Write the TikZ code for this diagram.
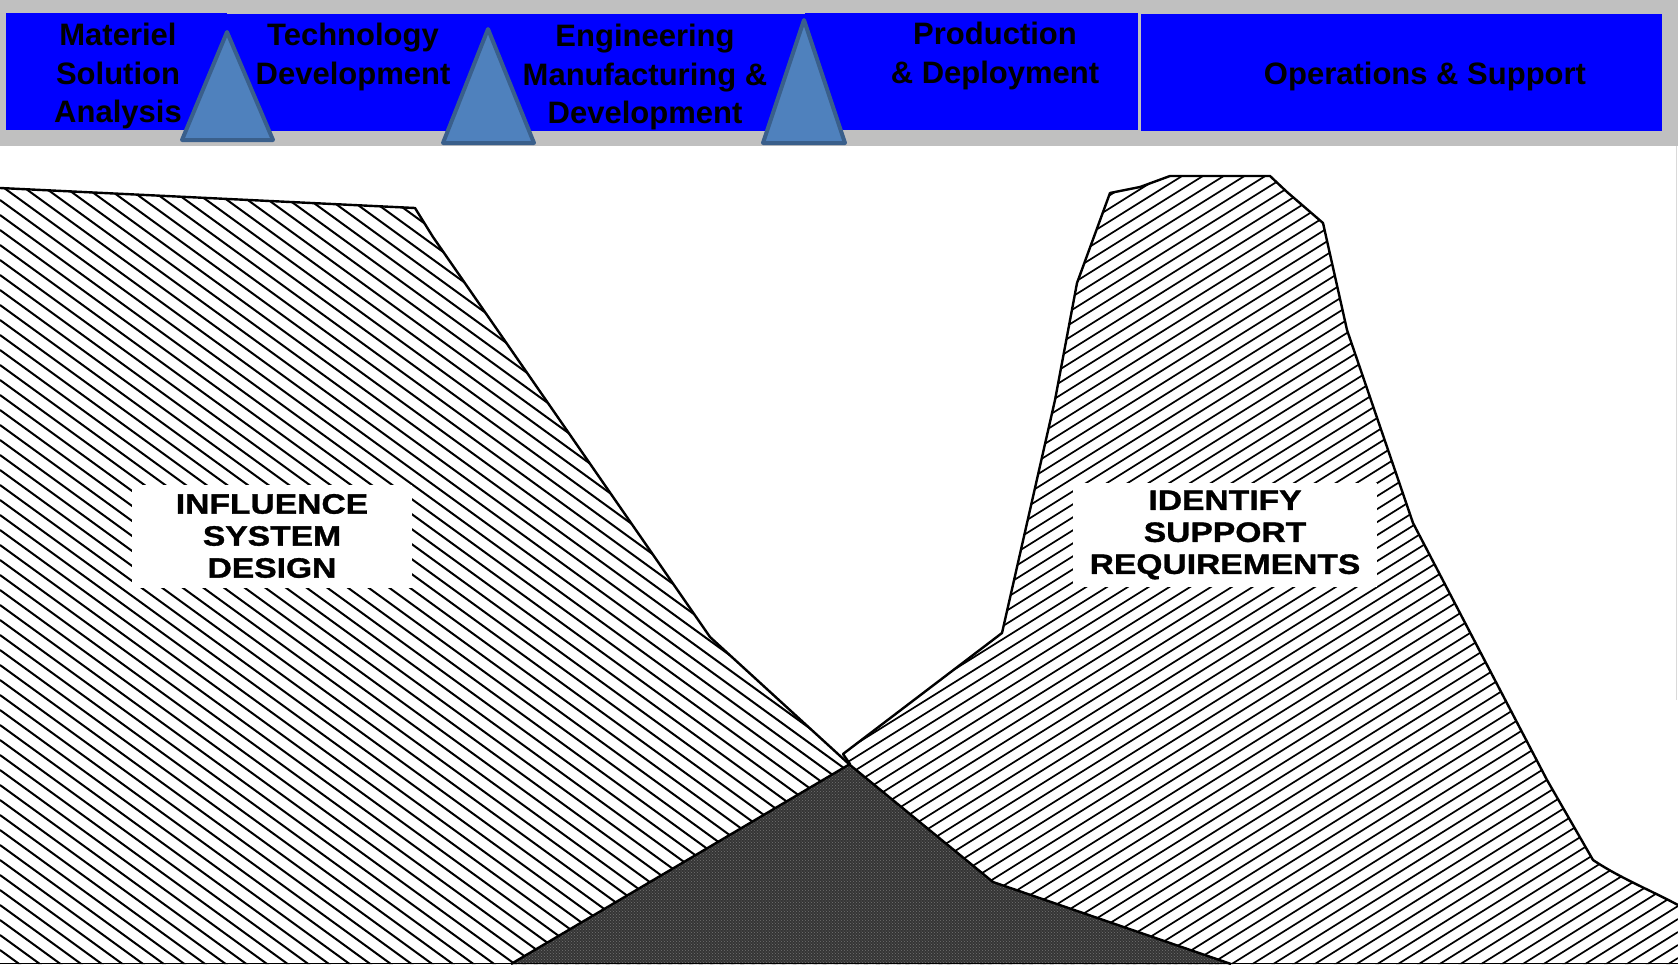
\documentclass[tikz,border=0pt]{standalone}
\usepackage{fontspec}
\setmainfont{Liberation Sans}
\newfontfamily\labelfont{Liberation Sans}[FakeStretch=1.2,FakeBold=1.2]
\usetikzlibrary{patterns}
\definecolor{barbg}{HTML}{C0C0C0}
\definecolor{phase}{HTML}{0000FF}
\definecolor{msfill}{HTML}{4F81BD}
\definecolor{msdraw}{HTML}{3A5F8B}
\definecolor{overlap}{HTML}{353535}

\begin{document}
\begin{tikzpicture}[x=1pt,y=-1pt,
  phasetext/.style={font=\fontsize{31}{38.5}\selectfont\bfseries, align=center, text=black, inner sep=0pt},
  milestone/.style={fill=msfill, draw=msdraw, line width=4pt, line join=round},
  outline/.style={draw=black, line width=2.4pt, line join=round},
  tag/.style={fill=white, inner sep=0pt, font=\labelfont\fontsize{28}{32}\selectfont\bfseries, align=center},
  hatchL/.style={black, line width=2pt},
  hatchR/.style={black, line width=1.7pt},
]
\useasboundingbox (0,0) rectangle (1678,964);
\fill[white] (0,0) rectangle (1678,964);

% outline points of the design-influence curve
\coordinate (L0) at (0,188);
\coordinate (L1) at (415,208);
\coordinate (L2) at (433,237);
\coordinate (L3) at (710,637);
\coordinate (L4) at (850,765);
\coordinate (L5) at (993,882);
\coordinate (L6) at (1231,964);
\coordinate (L7) at (0,964);

% outline points of the support-requirements curve
\coordinate (R0) at (511,964);
\coordinate (R1) at (850,764);
\coordinate (R2) at (843,754);
\coordinate (R3) at (1002,633);
\coordinate (R3a) at (1055,400);
\coordinate (R4) at (1077,283);
\coordinate (R5) at (1110,193);
\coordinate (R6) at (1140,187);
\coordinate (R7) at (1170,176);
\coordinate (R8) at (1270,176);
\coordinate (R9) at (1287,192);
\coordinate (R10) at (1323,223);
\coordinate (R11) at (1347,330);
\coordinate (R12) at (1413,523);
\coordinate (R13) at (1547,780);
\coordinate (R14) at (1593,860);
\coordinate (R15) at (1678,905);
\coordinate (R16) at (1678,964);

% hatching of the left area
\begin{scope}
  \clip (L0) -- (L1) -- (L2) -- (L3) -- (L4) -- (L5) -- (L6) -- (L7) -- cycle;
  \foreach \c in {-1240,-1225,...,980}
    \draw[hatchL] (0,\c) -- (1678,\c+1219);
\end{scope}

% hatching of the right area
\begin{scope}
  \clip (R0) -- (R1) -- (R2) -- (R3) -- (R3a) -- (R4) -- (R5) -- (R6) -- (R7) -- (R8)
        -- (R9) -- (R10) -- (R11) -- (R12) -- (R13) -- (R14)
        .. controls (1620,878) and (1650,890) .. (R15) -- (R16) -- cycle;
  \foreach \c in {850,863,...,2030}
    \draw[hatchR] (0,\c) -- (1678,\c-1049);
\end{scope}

% overlap of both areas
\begin{scope}
  \clip (L0) -- (L1) -- (L2) -- (L3) -- (L4) -- (L5) -- (L6) -- (L7) -- cycle;
  \fill[overlap] (R0) -- (R1) -- (R2) -- (R3) -- (R4) -- (R8) -- (R16) -- cycle;
  \fill[pattern=crosshatch dots, pattern color=black!55] (R0) -- (R1) -- (R2) -- (R3) -- (R4) -- (R8) -- (R16) -- cycle;
\end{scope}

% curve outlines
\draw[outline] (L0) -- (L1) -- (L2) -- (L3) -- (L4) -- (L5) -- (L6);
\draw[outline] (R0) -- (R1) -- (R2) -- (R3) -- (R3a) -- (R4) -- (R5) -- (R6) -- (R7) -- (R8)
        -- (R9) -- (R10) -- (R11) -- (R12) -- (R13) -- (R14)
        .. controls (1620,878) and (1650,890) .. (R15);
\draw[black, line width=1.6pt] (0,963.5) -- (1678,963.5);
\draw[black!15, line width=1pt] (1676,146) -- (1676,700);

% labels on the curves
\node[tag, minimum width=280pt, minimum height=103pt] (isd) at (272,536) {INFLUENCE\\SYSTEM\\DESIGN};
\node[tag, minimum width=304pt, minimum height=104pt] (isr) at (1225,535) {IDENTIFY\\SUPPORT\\REQUIREMENTS};

% phase bar
\fill[barbg] (0,0) rectangle (1678,146);
\fill[phase] (6,13) rectangle (227,130);
\fill[phase] (227,14) rectangle (805,131);
\fill[phase] (805,13) rectangle (1138,130);
\fill[phase] (1141,14) rectangle (1662,131);

\node[phasetext] (msa) at (118,76) {Materiel\\Solution\\Analysis};
\node[phasetext] (td) at (353,57) {Technology\\Development};
\node[phasetext] (emd) at (645,77) {Engineering\\Manufacturing \&\\Development};
\node[phasetext] (pd) at (995,56) {Production\\\& Deployment};
\node[phasetext] (os) at (1425,76) {Operations \& Support};

% milestone markers
\draw[milestone] (182,140) -- (227,32) -- (273,140) -- cycle;
\draw[milestone] (443,143) -- (488,29) -- (534,143) -- cycle;
\draw[milestone] (763,143) -- (804,20) -- (845,143) -- cycle;
\end{tikzpicture}
\end{document}
